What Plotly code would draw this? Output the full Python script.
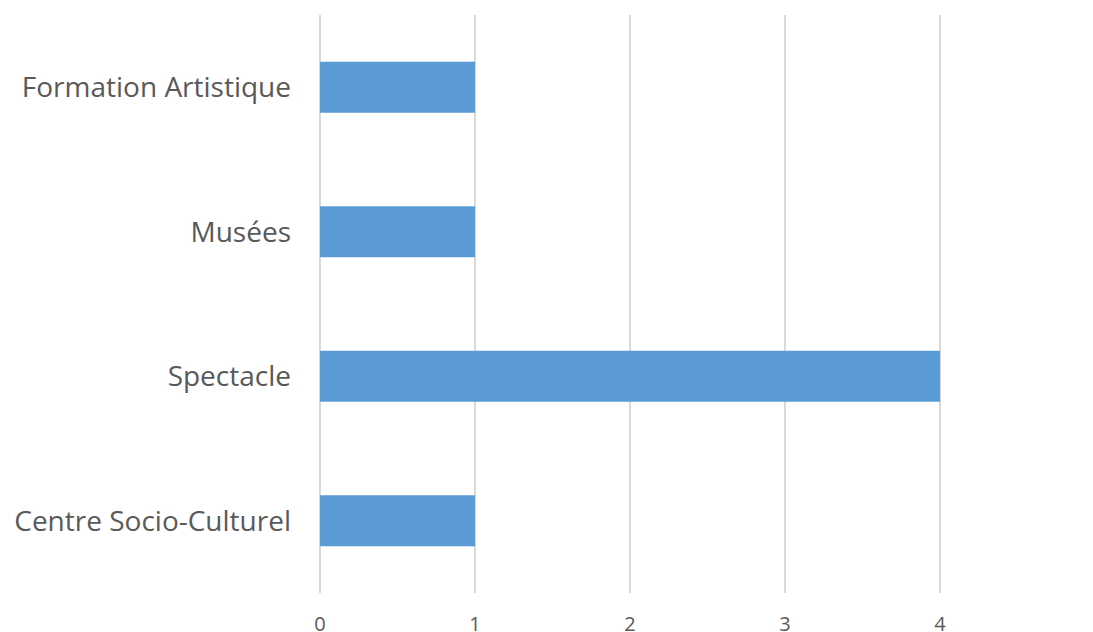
import plotly.graph_objects as go

categories = ["Centre Socio-Culturel", "Spectacle", "Musées", "Formation Artistique"]
values = [1, 4, 1, 1]
x_ticks = [0, 1, 2, 3, 4, 5]

# the page body adds an 8px margin around the figure; compensate for it
BODY = 8
W, H = 1093 - BODY, 632 - BODY
ML, MR, MT, MB = 320 - BODY, 0, 15 - BODY, 39
unit_px = 155.0
plot_w = W - ML - MR
x_max = plot_w / unit_px

TEXT = "#595959"
GRID = "#d9d9d9"
BAR = "#5b9bd5"

fig = go.Figure(go.Bar(
    x=values, y=categories, orientation="h",
    marker=dict(color=BAR, line=dict(width=0)),
))

fig.update_layout(
    width=W, height=H,
    margin=dict(l=ML, r=MR, t=MT, b=MB, autoexpand=False),
    paper_bgcolor="white", plot_bgcolor="white",
    bargap=0.647,
    showlegend=False,
    xaxis=dict(
        range=[0, x_max], tickvals=x_ticks, ticktext=[str(t) for t in x_ticks],
        showgrid=True, gridcolor=GRID, gridwidth=2,
        zeroline=True, zerolinecolor=GRID, zerolinewidth=2,
        showline=False, ticks="", automargin=False,
        tickfont=dict(family="Open Sans", size=20, color=TEXT),
        ticklabelstandoff=17,
    ),
    yaxis=dict(
        categoryorder="array", categoryarray=categories,
        showgrid=False, zeroline=False, showline=False, ticks="",
        automargin=False,
        tickfont=dict(family="Open Sans", size=28, color=TEXT),
        ticklabelstandoff=28,
    ),
)

# tick "5" sits at the clipped right edge of the axis
fig.add_annotation(
    x=(x_ticks[-1] * unit_px) / plot_w, xref="paper", y=0, yref="paper",
    text=str(x_ticks[-1]), showarrow=False, xanchor="center", yanchor="top",
    yshift=-17, font=dict(family="Open Sans", size=20, color=TEXT),
)

fig.write_html("out.html")
